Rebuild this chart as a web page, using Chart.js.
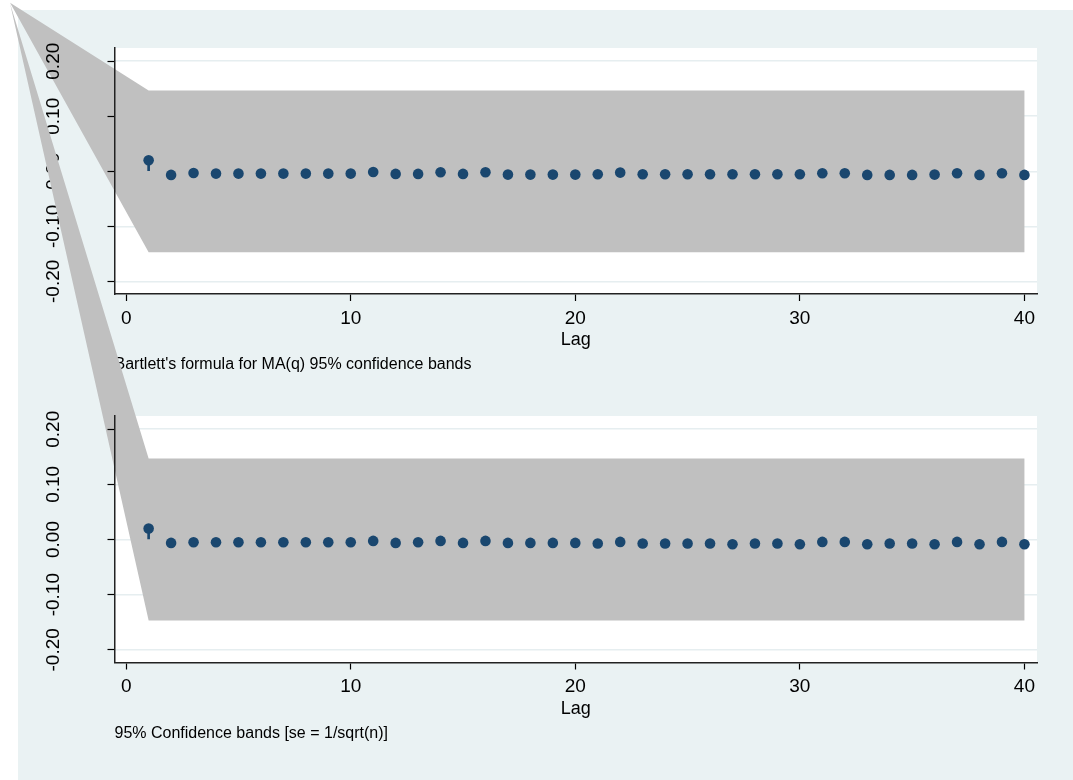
<!DOCTYPE html>
<html>
<head>
<meta charset="utf-8">
<title>Autocorrelations</title>
<script src="https://cdn.jsdelivr.net/npm/chart.js@4.4.1/dist/chart.umd.min.js"></script>
<style>
  html, body { margin: 0; padding: 0; background: #ffffff; }
  #page { position: relative; width: 1073px; height: 780px; overflow: hidden; }
  #graphRegion { position: absolute; left: 18px; top: 10px; right: 0; bottom: 0; background: #EAF2F3; }
  canvas { position: absolute; left: 0; top: 0; }
</style>
</head>
<body>
<div id="page">
  <div id="graphRegion"></div>
  <canvas id="acChart" width="1073" height="780"></canvas>
  <canvas id="pacChart" width="1073" height="780"></canvas>
</div>
<script>
// lags and axis ticks
const lags = [1, 2, 3, 4, 5, 6, 7, 8, 9, 10, 11, 12, 13, 14, 15, 16, 17, 18, 19, 20,
              21, 22, 23, 24, 25, 26, 27, 28, 29, 30, 31, 32, 33, 34, 35, 36, 37, 38, 39, 40];
const xTicks = [0, 10, 20, 30, 40];
const yTicks = [-0.2, -0.1, 0, 0.1, 0.2];
const yTickLabels = ["-0.20", "-0.10", "0.00", "0.10", "0.20"];

// top panel: autocorrelations, Bartlett band
const acValues = [0.020, -0.0066, -0.0030, -0.0042, -0.0042, -0.0042, -0.0042, -0.0042, -0.0042, -0.0042,
                  -0.0012, -0.0048, -0.0048, -0.0018, -0.0048, -0.0018, -0.0060, -0.0060, -0.0060, -0.0060,
                  -0.0054, -0.0024, -0.0054, -0.0054, -0.0054, -0.0054, -0.0054, -0.0054, -0.0054, -0.0054,
                  -0.0036, -0.0036, -0.0066, -0.0066, -0.0066, -0.0060, -0.0036, -0.0066, -0.0036, -0.0066];
const acBandUpper = [0.147, 0.147, 0.147, 0.147, 0.147, 0.147, 0.147, 0.147, 0.147, 0.147,
                     0.147, 0.147, 0.147, 0.147, 0.147, 0.147, 0.147, 0.147, 0.147, 0.147,
                     0.147, 0.147, 0.147, 0.147, 0.147, 0.147, 0.147, 0.147, 0.147, 0.147,
                     0.147, 0.147, 0.147, 0.147, 0.147, 0.147, 0.147, 0.147, 0.147, 0.147];
const acBandLower = [-0.147, -0.147, -0.147, -0.147, -0.147, -0.147, -0.147, -0.147, -0.147, -0.147,
                     -0.147, -0.147, -0.147, -0.147, -0.147, -0.147, -0.147, -0.147, -0.147, -0.147,
                     -0.147, -0.147, -0.147, -0.147, -0.147, -0.147, -0.147, -0.147, -0.147, -0.147,
                     -0.147, -0.147, -0.147, -0.147, -0.147, -0.147, -0.147, -0.147, -0.147, -0.147];
const acBandOrigin = [-5.17, 0.306];   // stray first vertex of the band
const acNote = "Bartlett's formula for MA(q) 95% confidence bands";

// bottom panel: partial autocorrelations, 1/sqrt(n) band
const pacValues = [0.0199, -0.0061, -0.0049, -0.0049, -0.0049, -0.0049, -0.0049, -0.0049, -0.0049, -0.0049,
                   -0.0025, -0.0061, -0.0049, -0.0025, -0.0061, -0.0025, -0.0061, -0.0061, -0.0061, -0.0061,
                   -0.0073, -0.0043, -0.0073, -0.0073, -0.0073, -0.0073, -0.0085, -0.0073, -0.0073, -0.0085,
                   -0.0043, -0.0043, -0.0085, -0.0073, -0.0073, -0.0085, -0.0043, -0.0085, -0.0043, -0.0085];
const pacBandUpper = [0.147, 0.147, 0.147, 0.147, 0.147, 0.147, 0.147, 0.147, 0.147, 0.147,
                      0.147, 0.147, 0.147, 0.147, 0.147, 0.147, 0.147, 0.147, 0.147, 0.147,
                      0.147, 0.147, 0.147, 0.147, 0.147, 0.147, 0.147, 0.147, 0.147, 0.147,
                      0.147, 0.147, 0.147, 0.147, 0.147, 0.147, 0.147, 0.147, 0.147, 0.147];
const pacBandLower = [-0.147, -0.147, -0.147, -0.147, -0.147, -0.147, -0.147, -0.147, -0.147, -0.147,
                      -0.147, -0.147, -0.147, -0.147, -0.147, -0.147, -0.147, -0.147, -0.147, -0.147,
                      -0.147, -0.147, -0.147, -0.147, -0.147, -0.147, -0.147, -0.147, -0.147, -0.147,
                      -0.147, -0.147, -0.147, -0.147, -0.147, -0.147, -0.147, -0.147, -0.147, -0.147];
const pacBandOrigin = [-5.17, 0.972];
const pacNote = "95% Confidence bands [se = 1/sqrt(n)]";

const navy = "#1A476F";
const bandColor = "#C0C0C0";
const fontFamily = "'Liberation Sans', Arial, sans-serif";

// white plot region
const plotRegion = {
    id: "plotRegion",
    beforeDraw(chart) {
        const a = chart.chartArea;
        chart.ctx.save();
        chart.ctx.fillStyle = "#ffffff";
        chart.ctx.fillRect(a.left, a.top, a.right - a.left, a.bottom - a.top);
        chart.ctx.restore();
    }
};

// grey confidence band, not clipped to the plot region
function bandPlugin(upper, lower, origin) {
    return {
        id: "confBand",
        beforeDatasetsDraw(chart) {
            const { ctx, scales: { x, y } } = chart;
            ctx.save();
            ctx.beginPath();
            ctx.moveTo(x.getPixelForValue(origin[0]), y.getPixelForValue(origin[1]));
            lags.forEach((lag, i) => ctx.lineTo(x.getPixelForValue(lag), y.getPixelForValue(upper[i])));
            for (let i = lags.length - 1; i >= 0; i--) {
                ctx.lineTo(x.getPixelForValue(lags[i]), y.getPixelForValue(lower[i]));
            }
            ctx.closePath();
            ctx.fillStyle = bandColor;
            ctx.fill();
            ctx.restore();
        }
    };
}

function buildPanel(canvasId, values, upper, lower, origin, note, padTop, padBottom) {
    const points = lags.map((lag, i) => ({ x: lag, y: values[i] }));
    const spikes = lags.map((lag, i) => ({ x: lag, y: [0, values[i]] }));

    return new Chart(document.getElementById(canvasId), {
        type: "scatter",
        data: {
            datasets: [
                { type: "scatter", data: points, pointRadius: 5.3, pointHoverRadius: 5.3,
                  pointBackgroundColor: navy, pointBorderWidth: 0, order: 0 },
                { type: "bar", data: spikes, backgroundColor: navy, barThickness: 2, order: 1 }
            ]
        },
        options: {
            responsive: false,
            animation: false,
            events: [],
            layout: { padding: { left: 0, right: 36, top: padTop, bottom: padBottom } },
            plugins: {
                legend: { display: false },
                tooltip: { enabled: false },
                title: {
                    display: true, text: note, position: "bottom", align: "start", fullSize: false,
                    color: "#000", font: { family: fontFamily, size: 16, weight: "normal" },
                    padding: { top: 1, bottom: 0 }
                }
            },
            scales: {
                x: {
                    type: "linear", min: -0.52, max: 40.56, offset: false,
                    afterBuildTicks: s => { s.ticks = xTicks.map(v => ({ value: v })); },
                    afterFit: s => { s.height = 60; },
                    grid: { offset: false, drawOnChartArea: false, drawTicks: true, tickLength: 7,
                            tickColor: "#000", tickWidth: 1.2 },
                    border: { color: "#222", width: 1.5 },
                    ticks: { color: "#000", font: { family: fontFamily, size: 19 }, padding: 6, maxRotation: 0, autoSkip: false },
                    title: { display: true, text: "Lag", color: "#000", font: { family: fontFamily, size: 18 },
                             padding: { top: 0, bottom: 3 } }
                },
                y: {
                    type: "linear", position: "left", min: -0.223, max: 0.224,
                    afterBuildTicks: s => { s.ticks = yTicks.map(v => ({ value: v })); },
                    afterFit: s => { s.width = 114.5; },
                    grid: { z: 1, drawOnChartArea: false, drawTicks: true, tickLength: 7, tickColor: "#000", tickWidth: 1.2 },
                    border: { z: 1, color: "#222", width: 1.5 },
                    ticks: {
                        z: 1, color: "#000", font: { family: fontFamily, size: 19 },
                        minRotation: 90, maxRotation: 90, crossAlign: "center", padding: 31.6, autoSkip: false,
                        callback: (v, i) => yTickLabels[i]
                    }
                },
                yGrid: {
                    type: "linear", position: "right", min: -0.223, max: 0.224,
                    afterBuildTicks: s => { s.ticks = yTicks.map(v => ({ value: v })); },
                    afterFit: s => { s.width = 0; },
                    grid: { color: "#E6EEF0", lineWidth: 1.5, drawTicks: false },
                    border: { display: false },
                    ticks: { display: false }
                }
            }
        },
        plugins: [plotRegion, bandPlugin(upper, lower, origin)]
    });
}

buildPanel("acChart", acValues, acBandUpper, acBandLower, acBandOrigin, acNote, 48, 405.8);
buildPanel("pacChart", pacValues, pacBandUpper, pacBandLower, pacBandOrigin, pacNote, 416, 37.3);
</script>
</body>
</html>
